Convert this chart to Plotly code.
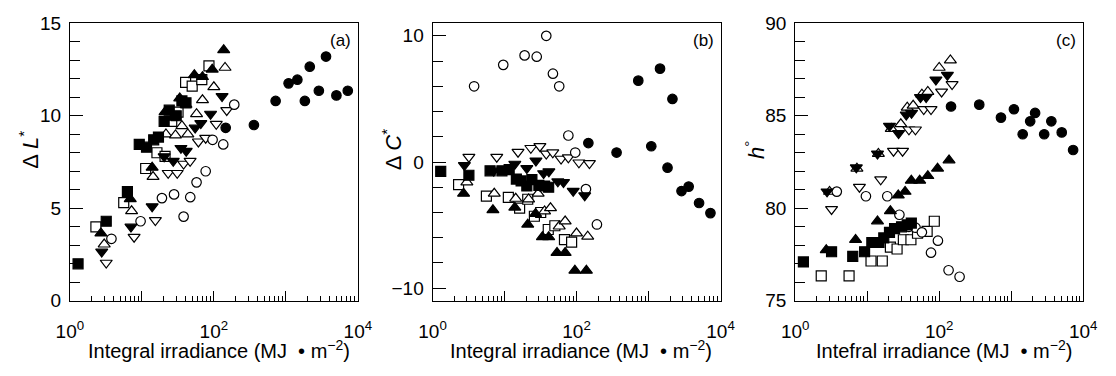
import plotly.graph_objects as go

# ---------------- data ----------------
# filled square
fs_x = [1.3, 3.2, 6.3, 9.2, 11.6, 14.6, 17, 20.4, 24, 30, 36, 41]
fs_a = [2.0, 4.3, 5.9, 8.45, 8.3, 8.7, 8.85, 9.7, 10.3, 10.0, 10.8, 10.7]
fs_b = [-0.75, -1.05, -0.7, -0.7, -0.6, -1.35, -1.5, -1.9, -1.4, -1.85, -1.9, -2.0]
fs_c = [77.1, 77.65, 77.4, 77.65, 78.15, 78.15, 78.4, 78.7, 78.9, 79.0, 79.1, 79.2]
# open square
os_x = [2.3, 5.6, 11.3, 16.2, 21, 26, 31.8, 40.5, 50, 68, 85.5]
os_a = [4.0, 5.3, 7.15, 8.0, 7.8, 9.7, 10.2, 11.8, 11.6, 11.95, 12.7]
os_b = [-1.8, -2.7, -2.8, -3.65, -2.95, -4.3, -4.0, -5.35, -5.05, -6.15, -6.35]
os_c = [76.35, 76.35, 77.15, 77.15, 77.9, 77.8, 78.3, 78.3, 78.65, 78.75, 79.3]
# filled up-triangle
ft_x = [2.7, 6.9, 13.9, 21, 27, 33.6, 41, 53.6, 69.5, 94.9, 137]
ft_a = [3.65, 5.5, 7.2, 10.2, 9.9, 10.95, 10.6, 12.2, 12.1, 12.5, 13.55]
ft_b = [-2.5, -3.8, -3.6, -4.95, -4.1, -5.95, -5.95, -7.2, -7.2, -8.6, -8.6]
ft_c = [77.75, 78.3, 79.3, 79.85, 80.7, 80.9, 81.5, 81.5, 81.75, 82.15, 82.6]
# open up-triangle
ot_x = [3.0, 7.2, 14.3, 21.6, 29.3, 36, 43.5, 57.5, 69.5, 100, 143]
ot_a = [3.05, 4.85, 6.7, 9.0, 8.95, 9.45, 9.0, 10.1, 10.85, 11.55, 12.6]
ot_b = [-1.6, -2.5, -2.9, -2.95, -2.5, -3.9, -3.65, -5.1, -4.7, -5.65, -5.9]
ot_c = [80.9, 82.15, 82.95, 84.3, 84.55, 85.45, 85.55, 86.15, 86.3, 87.6, 88.0]
# filled down-triangle
fd_x = [2.77, 7.06, 13.9, 20.4, 27.3, 34.9, 41.3, 55, 65.9, 90, 130]
fd_a = [2.65, 4.0, 5.1, 7.8, 7.55, 8.25, 8.1, 9.35, 9.6, 10.1, 11.05]
fd_b = [-0.25, -0.7, -0.15, -0.5, 0.1, -0.9, -0.75, -1.55, -1.6, -2.3, -2.65]
fd_c = [80.9, 82.2, 82.95, 84.45, 84.05, 85.05, 85.15, 86.0, 86.0, 86.95, 87.2]
# open down-triangle
od_x = [3.2, 7.8, 15.4, 23.2, 31, 38, 46.8, 61, 77, 108, 151]
od_a = [2.05, 3.45, 4.35, 6.9, 6.9, 7.4, 7.55, 8.6, 8.8, 9.55, 10.3]
od_b = [0.4, 0.4, 0.8, 1.1, 1.25, 0.65, 0.75, 0.25, 0.35, -0.05, -0.1]
od_c = [79.95, 81.15, 81.55, 83.1, 83.1, 84.25, 84.25, 85.35, 85.35, 86.3, 86.7]
# open circle
oc_x = [3.78, 9.6, 19, 28, 38, 47, 57.5, 77, 96, 135, 192]
oc_a = [3.35, 4.3, 5.55, 5.75, 4.55, 5.6, 6.4, 7.0, 8.7, 8.45, 10.6]
oc_b = [6.0, 7.7, 8.45, 8.35, 10.0, 7.0, 6.0, 2.1, 0.75, -2.15, -4.95]
oc_c = [80.9, 80.65, 80.65, 79.65, 79.0, 78.95, 78.7, 77.6, 78.25, 76.65, 76.3]
# filled circle
fc_x = [146, 360, 721, 1092, 1445, 1836, 2148, 2873, 3611, 5036, 7244]
fc_a = [9.35, 9.5, 10.8, 11.75, 11.95, 10.8, 12.65, 11.35, 13.2, 11.1, 11.35]
fc_b = [1.5, 0.75, 6.45, 1.25, 7.4, -0.45, 5.0, -2.3, -1.95, -3.25, -4.05]
fc_c = [85.5, 85.6, 84.9, 85.35, 84.0, 84.7, 85.15, 84.0, 84.7, 84.1, 83.15]

panel_labels = ["(a)", "(b)", "(c)"]
y_titles = ["Δ <i>L</i><sup>*</sup>", "Δ <i>C</i><sup>*</sup>", "<i>h</i><sup>°</sup>"]
x_titles = ["Integral irradiance (MJ  • m<sup>−2</sup>)",
            "Integral irradiance (MJ  • m<sup>−2</sup>)",
            "Intefral irradiance (MJ  • m<sup>−2</sup>)"]

series = [
    # (x, [a,b,c], symbol, filled, size)
    (os_x, [os_a, os_b, os_c], "square", False, 10),
    (ot_x, [ot_a, ot_b, ot_c], "triangle-up", False, 10.5),
    (od_x, [od_a, od_b, od_c], "triangle-down", False, 10.5),
    (oc_x, [oc_a, oc_b, oc_c], "circle", False, 9.5),
    (fs_x, [fs_a, fs_b, fs_c], "square", True, 10),
    (ft_x, [ft_a, ft_b, ft_c], "triangle-up", True, 10.5),
    (fd_x, [fd_a, fd_b, fd_c], "triangle-down", True, 10.5),
    (fc_x, [fc_a, fc_b, fc_c], "circle", True, 9.5),
]

W, H = 1116, 376
x_px = [(57.3, 352.7), (429.3, 724.7), (801.3, 1096.7)]
y_top, y_bot = 14, 308
ydom = [(H - y_bot) / H, (H - y_top) / H]

fig = go.Figure()
font = "Liberation Sans, Arial, sans-serif"

for p in range(3):
    xa = "x" if p == 0 else f"x{p+1}"
    ya = "y" if p == 0 else f"y{p+1}"
    for sx, sys_, sym, filled, sz in series:
        fig.add_trace(go.Scatter(
            x=sx, y=sys_[p], mode="markers", xaxis=xa, yaxis=ya, showlegend=False,
            marker=dict(symbol=sym, size=sz,
                        color="black" if filled else "white",
                        line=dict(color="black", width=1.2)),
        ))

yranges = [[0, 15], [-11, 11], [75, 90]]
ymajor = [[0, 5, 10, 15], [-10, 0, 10], [75, 80, 85, 90]]
yminor = [list(range(1, 15)), list(range(-10, 11, 2)), list(range(76, 90))]
xmajor = [1, 10, 100, 1000, 10000]
xmajor_text = ["10<sup>0</sup>", "", "10<sup>2</sup>", "", "10<sup>4</sup>"]
xminor = [m * 10 ** d for d in range(4) for m in range(2, 10)]

layout = dict(width=W, height=H, margin=dict(l=0, r=0, t=0, b=0),
              paper_bgcolor="white", plot_bgcolor="white",
              font=dict(family=font, color="black", size=19))
for p in range(3):
    sfx = "" if p == 0 else str(p + 1)
    x0, x1 = x_px[p]
    layout["xaxis" + sfx] = dict(
        type="log", range=[0, 4], domain=[x0 / W, x1 / W],
        anchor="y" + sfx, showgrid=False, zeroline=False,
        showline=True, mirror=True, linecolor="black", linewidth=1,
        ticks="inside", ticklen=10, tickwidth=1, tickcolor="black",
        tickmode="array", tickvals=xmajor, ticktext=xmajor_text,
        tickfont=dict(size=19), ticklabelstandoff=13,
        minor=dict(ticks="inside", ticklen=5, tickwidth=1, tickcolor="black",
                   tickvals=xminor, showgrid=False),
    )
    layout["yaxis" + sfx] = dict(
        range=yranges[p], domain=ydom, anchor="x" + sfx,
        showgrid=False, zeroline=False,
        showline=True, mirror=True, linecolor="black", linewidth=1,
        ticks="inside", ticklen=13, tickwidth=1, tickcolor="black",
        tickmode="array", tickvals=ymajor[p],
        ticktext=[str(v).replace("-", "−") for v in ymajor[p]],
        tickfont=dict(size=19), ticklabelstandoff=4,
        minor=dict(ticks="inside", ticklen=10, tickwidth=1, tickcolor="black",
                   tickvals=yminor[p], showgrid=False),
    )
fig.update_layout(**layout)

anns = []
for p in range(3):
    x0, x1 = x_px[p]
    anns.append(dict(text=panel_labels[p], xref="paper", yref="paper",
                     x=(x1 - 5) / W, y=(H - 32) / H, xanchor="right", yanchor="middle",
                     showarrow=False, font=dict(size=17, family=font)))
    anns.append(dict(text=x_titles[p], xref="paper", yref="paper",
                     x=((x0 + x1) / 2 + 5) / W, y=(H - 360) / H, xanchor="center", yanchor="middle",
                     showarrow=False, font=dict(size=20, family=font)))
    anns.append(dict(text=y_titles[p], xref="paper", yref="paper",
                     x=(x0 - 42) / W, y=(H - 148) / H, xanchor="center", yanchor="middle",
                     textangle=-90, showarrow=False, font=dict(size=22, family=font)))
fig.update_layout(annotations=anns)

fig.write_html("out.html")
